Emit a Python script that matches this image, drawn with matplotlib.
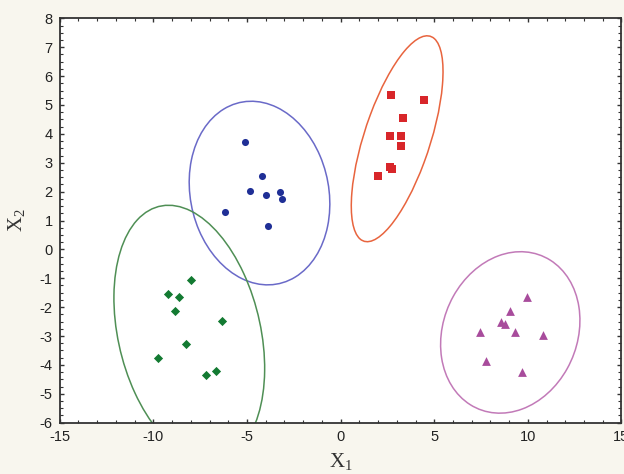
import numpy as np
import matplotlib
matplotlib.use("Agg")
import matplotlib.pyplot as plt
from matplotlib.patches import Ellipse
from matplotlib.ticker import MultipleLocator

plt.rcParams["axes.unicode_minus"] = False
plt.rcParams["mathtext.fontset"] = "custom"
plt.rcParams["mathtext.rm"] = "Liberation Serif"
plt.rcParams["mathtext.it"] = "Liberation Serif"

# ---- data ----
blue_x = [-5.13, -4.18, -4.85, -4.00, -3.22, -3.12, -6.16, -3.90]
blue_y = [3.72, 2.55, 2.02, 1.87, 1.97, 1.75, 1.29, 0.81]

red_x = [2.71, 4.47, 3.33, 2.62, 3.24, 3.24, 2.65, 2.75, 1.99]
red_y = [5.35, 5.18, 4.55, 3.91, 3.91, 3.58, 2.85, 2.78, 2.55]

green_x = [-7.99, -9.20, -8.61, -8.83, -6.33, -8.26, -9.74, -6.65, -7.17]
green_y = [-1.05, -1.55, -1.64, -2.13, -2.49, -3.28, -3.77, -4.22, -4.35]

purple_x = [9.96, 9.03, 8.57, 8.79, 7.47, 9.32, 10.83, 7.77, 9.71]
purple_y = [-1.64, -2.12, -2.53, -2.58, -2.87, -2.87, -2.95, -3.85, -4.26]

# ellipse: centre x, centre y, var x, var y, cov xy (shape matrix in data units)
ell_blue = [-4.33, 1.95, 14.1, 10.1, -1.4]
ell_red = [3.02, 3.83, 6.0, 12.7, 5.7]
ell_green = [-8.08, -2.9, 16.2, 19.6, -4.9]
ell_purple = [9.06, -2.875, 13.84, 7.81, 1.55]

x_ticks = [-15, -10, -5, 0, 5, 10, 15]
y_ticks = [-6, -5, -4, -3, -2, -1, 0, 1, 2, 3, 4, 5, 6, 7, 8]

# ---- figure ----
fig = plt.figure(figsize=(6.24, 4.74), dpi=100)
fig.patch.set_facecolor("#f8f6ee")
ax = fig.add_axes([59.7 / 624, (474 - 422.7) / 474, (621.5 - 59.7) / 624, (422.7 - 18.3) / 474])
ax.set_facecolor("white")


def draw_ellipse(params, color):
    cx, cy, a, c, b = params
    vals, vecs = np.linalg.eigh(np.array([[a, b], [b, c]]))
    order = vals.argsort()[::-1]
    vals, vecs = vals[order], vecs[:, order]
    ang = np.degrees(np.arctan2(vecs[1, 0], vecs[0, 0]))
    e = Ellipse((cx, cy), 2 * np.sqrt(vals[0]), 2 * np.sqrt(vals[1]), angle=ang,
                fill=False, edgecolor=color, lw=1.1, zorder=2)
    ax.add_patch(e)


draw_ellipse(ell_blue, "#6a6ac8")
draw_ellipse(ell_red, "#e8643e")
draw_ellipse(ell_green, "#4f8f55")
draw_ellipse(ell_purple, "#c27ab8")

ax.scatter(blue_x, blue_y, marker="o", s=26, color="#1f2f96", zorder=3, linewidths=0)
ax.scatter(red_x, red_y, marker="s", s=34, color="#d8262a", zorder=3, linewidths=0)
ax.scatter(green_x, green_y, marker="D", s=22, color="#137a32", zorder=3, linewidths=0)
ax.scatter(purple_x, purple_y, marker="^", s=40, color="#a84c9c", zorder=3, linewidths=0)

ax.set_xlim(-15, 15)
ax.set_ylim(-6, 8)
ax.set_xticks(x_ticks)
ax.set_yticks(y_ticks)
ax.xaxis.set_minor_locator(MultipleLocator(1))
ax.yaxis.set_minor_locator(MultipleLocator(0.25))
ax.tick_params(which="both", direction="in", top=True, right=True, color="#333333")
ax.tick_params(which="major", length=3, width=1)
ax.tick_params(which="minor", length=2, width=0.8)
ax.tick_params(axis="both", which="major", labelsize=10.5, labelcolor="#222222", pad=5)
for lab in ax.get_xticklabels() + ax.get_yticklabels():
    lab.set_family("Liberation Sans")
for s in ax.spines.values():
    s.set_color("#333333")
    s.set_linewidth(1.3)

ax.set_xlabel(r"$\mathrm{X}_1$", fontsize=15, color="#333333", labelpad=5)
ax.set_ylabel(r"$\mathrm{X}_2$", fontsize=15, color="#333333", labelpad=9)

fig.savefig("out.png", dpi=100, facecolor=fig.get_facecolor())
